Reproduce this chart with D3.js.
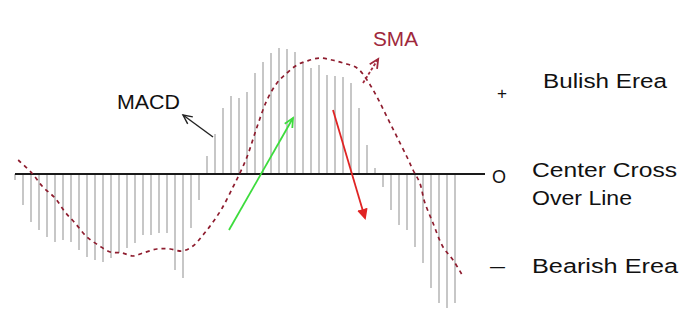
<!DOCTYPE html>
<html>
<head>
<meta charset="utf-8">
<script src="https://cdn.jsdelivr.net/npm/d3@7"></script>
<style>
  body { margin: 0; background: #fff; }
  text { font-family: "Liberation Sans", Arial, sans-serif; }
</style>
</head>
<body>
<div id="wrapper"></div>
<script>
// MACD histogram values, one bar per period
const macd = [
  -6, -31, -48, -56, -63, -68, -66, -68, -76, -83, -86, -88, -84, -79,
  -74, -69, -61, -61, -59, -59, -96, -104, -54, -26, 18, 40, 66, 78,
  76, 82, 101, 112, 121, 126, 125, 122, 112, 106, 109, 99, 98, 97,
  91, 66, 29, 6, -13, -36, -51, -56, -73, -89, -114, -129, -134, -129
]

// SMA line (period position, value)
const smaX = [0.4, 2.1, 3.5, 5, 6.25, 7.5, 9, 10.4, 11.9, 13.4, 14.75, 16, 17.75, 19.4,
  20.9, 22.25, 23.5, 24.75, 25.9, 27.25, 28, 29, 30.25, 31.5, 32.75, 34, 35.25,
  36.5, 38.1, 39.6, 41, 42.75, 44, 45.25, 46.5, 47.75, 49, 49.75, 50.6, 51.2,
  52.25, 53.5, 54.75, 55.9]
const smaY = [14, 1, -13, -24, -38, -49, -63, -71, -78, -79, -82, -79, -75, -75,
  -77, -72, -61, -48, -34, -13, -1, 17, 47, 74, 91, 101, 109,
  113, 116, 114, 111, 106, 94, 77, 57, 37, 17, 4, -9, -28,
  -49, -73, -86, -101]

// annotation arrows in data units: [fromX, fromY, toX, toY]
const arrows = [
  {name: "macd", from: [24.75, 37], to: [21.0, 59], color: "#222", dash: null},
  {name: "sma", from: [43.5, 91], to: [45.4, 115], color: "#a0283c", dash: "3,2"},
  {name: "up", from: [26.75, -56], to: [34.75, 56], color: "#3ddc3d", dash: null},
  {name: "down", from: [39.75, 64], to: [43.75, -44], color: "#e02424", dash: null}
]

const labels = [
  {text: "MACD", x: 117, y: 109, len: 63, color: "#111", size: 20},
  {text: "SMA", x: 373, y: 46, len: 45, color: "#a0283c", size: 20},
  {text: "+", x: 497, y: 99, len: 10, color: "#111", size: 17},
  {text: "Bulish Erea", x: 543, y: 88, len: 124, color: "#111", size: 20},
  {text: "O", x: 492, y: 183, len: null, color: "#111", size: 18},
  {text: "Center Cross", x: 532, y: 177, len: 145, color: "#111", size: 20},
  {text: "Over Line", x: 532, y: 205, len: 100, color: "#111", size: 20},
  {text: "\u2013", x: 490, y: 273, len: 15, color: "#111", size: 20},
  {text: "Bearish Erea", x: 532, y: 273, len: 146, color: "#111", size: 20}
]

const dimensions = {width: 680, height: 320}

const svg = d3.select("#wrapper").append("svg")
  .attr("width", dimensions.width)
  .attr("height", dimensions.height)

const xScale = d3.scaleLinear().domain([0, macd.length - 1]).range([15, 455])
const yScale = d3.scaleLinear().domain([-140, 170]).range([314, 4])

// histogram bars
svg.append("g").selectAll("line").data(macd).enter().append("line")
  .attr("x1", (d, i) => xScale(i)).attr("x2", (d, i) => xScale(i))
  .attr("y1", yScale(0)).attr("y2", d => yScale(d))
  .attr("stroke", "#b4b4b4").attr("stroke-width", 1.5)

// center line
svg.append("line")
  .attr("x1", xScale(0)).attr("x2", xScale(58.75))
  .attr("y1", yScale(0)).attr("y2", yScale(0))
  .attr("stroke", "#1a1a1a").attr("stroke-width", 2)

// SMA dashed line
const smaLine = d3.line()
  .x((d, i) => xScale(smaX[i])).y(d => yScale(d))
  .curve(d3.curveCatmullRom)
svg.append("path").datum(smaY)
  .attr("d", smaLine)
  .attr("fill", "none").attr("stroke", "#8e1c2e")
  .attr("stroke-width", 1.7).attr("stroke-dasharray", "4,4")

// arrows
arrows.forEach(a => {
  const x1 = xScale(a.from[0]), y1 = yScale(a.from[1])
  const x2 = xScale(a.to[0]), y2 = yScale(a.to[1])
  const ang = Math.atan2(y2 - y1, x2 - x1)
  const head = 10, spread = 0.45
  const g = svg.append("g").attr("stroke", a.color).attr("stroke-width", a.name == "macd" ? 1.4 : 1.8)
    .attr("fill", "none")
  g.append("line").attr("x1", x1).attr("y1", y1).attr("x2", x2).attr("y2", y2)
    .attr("stroke-dasharray", a.dash)
  const p = [
    [x2 - head * Math.cos(ang - spread), y2 - head * Math.sin(ang - spread)],
    [x2, y2],
    [x2 - head * Math.cos(ang + spread), y2 - head * Math.sin(ang + spread)]
  ]
  g.append("path").attr("d", d3.line()(p))
    .attr("fill", a.name == "down" ? a.color : "none")
})

// labels
svg.append("g").selectAll("text").data(labels).enter().append("text")
  .attr("x", d => d.x).attr("y", d => d.y)
  .attr("font-size", d => d.size)
  .attr("fill", d => d.color)
  .attr("textLength", d => d.len)
  .attr("lengthAdjust", d => d.len ? "spacingAndGlyphs" : null)
  .text(d => d.text)
</script>
</body>
</html>
